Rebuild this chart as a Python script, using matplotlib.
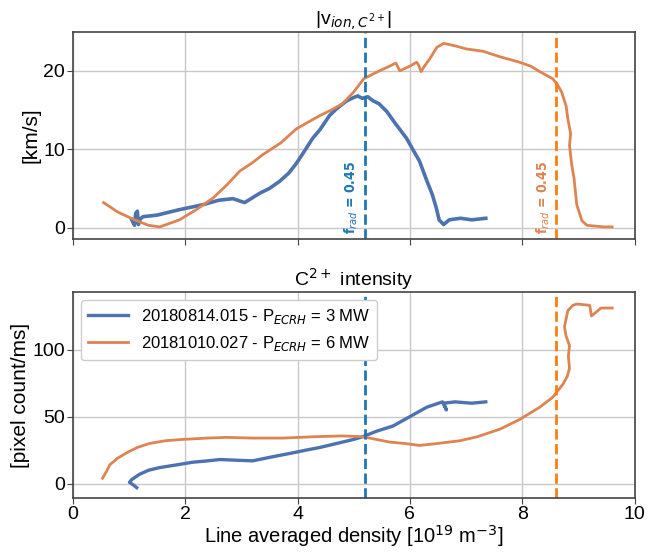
import numpy as np
import matplotlib.pyplot as plt

plt.rcParams['font.family'] = ['Liberation Sans', 'DejaVu Sans']

# upper panel: |v_ion| of C2+ [km/s]
v_blue_x = [1.05, 1.1, 1.12, 1.15, 1.17, 1.2, 1.25, 1.5, 1.9, 2.3, 2.6, 2.85, 3.06, 3.33, 3.5,
            3.68, 3.85, 3.98, 4.1, 4.27, 4.4, 4.57, 4.7, 4.88, 5.0, 5.07, 5.15, 5.25, 5.34, 5.45,
            5.59, 5.75, 5.94, 6.05, 6.17, 6.3, 6.4, 6.47, 6.52, 6.6, 6.7, 6.9, 7.1, 7.35]
v_blue_y = [1.0, 0.3, 1.8, 2.1, 0.4, 1.1, 1.4, 1.6, 2.3, 2.9, 3.5, 3.7, 3.2, 4.4, 5.0,
            5.9, 7.0, 8.2, 9.5, 11.4, 12.5, 14.3, 15.2, 16.2, 16.6, 16.8, 16.5, 16.7, 16.2, 15.8,
            14.8, 13.2, 11.4, 10.0, 8.5, 6.0, 4.2, 2.5, 1.0, 0.4, 1.0, 1.2, 1.0, 1.2]

v_orange_x = [0.55, 0.8, 1.1, 1.35, 1.55, 1.9, 2.2, 2.5, 2.75, 2.97, 3.2, 3.38, 3.7, 3.98, 4.2,
              4.4, 4.6, 4.8, 5.0, 5.18, 5.4, 5.64, 5.75, 5.82, 6.0, 6.12, 6.15, 6.2, 6.25, 6.35,
              6.48, 6.6, 6.8, 7.0, 7.3, 7.6, 7.95, 8.15, 8.31, 8.54, 8.62, 8.7, 8.78, 8.81, 8.86,
              8.84, 8.88, 8.92, 8.97, 9.02, 9.06, 9.15, 9.3, 9.45, 9.6]
v_orange_y = [3.2, 2.0, 1.0, 0.3, 0.1, 1.0, 2.3, 3.8, 5.5, 7.2, 8.3, 9.3, 10.8, 12.6, 13.5,
              14.3, 15.0, 15.8, 17.3, 19.0, 19.8, 20.6, 21.0, 20.0, 20.6, 21.1, 20.8, 19.9, 20.5, 21.5,
              23.0, 23.5, 23.2, 22.8, 22.5, 21.8, 21.1, 20.6, 19.9, 19.0, 18.3, 17.3, 15.5, 13.9, 12.0,
              10.5, 8.0, 6.3, 2.9, 1.8, 0.9, 0.3, 0.2, 0.1, 0.1]

# lower panel: C2+ intensity [pixel count/ms]
i_blue_x = [1.14, 1.08, 1.01, 1.05, 1.19, 1.35, 1.55, 1.85, 2.14, 2.4, 2.62, 2.9, 3.2, 3.55,
            3.92, 4.15, 4.4, 4.6, 4.8, 5.0, 5.16, 5.4, 5.7, 6.0, 6.3, 6.58, 6.65, 6.6, 6.8, 7.1, 7.35]
i_blue_y = [-3, -1, 1, 3, 7, 10, 12, 14, 16, 17, 18, 17.5, 17, 20,
            23, 25, 27, 29, 31, 33, 35, 39, 43, 50, 57, 61, 55, 60, 61, 60, 61]

i_orange_x = [0.53, 0.6, 0.66, 0.8, 0.96, 1.15, 1.37, 1.65, 1.96, 2.4, 2.74, 3.2, 3.74, 4.3,
              4.8, 5.16, 5.4, 5.64, 5.9, 6.17, 6.5, 6.89, 7.2, 7.6, 7.95, 8.31, 8.54, 8.72, 8.8,
              8.84, 8.82, 8.84, 8.78, 8.75, 8.81, 8.9, 8.97, 9.2, 9.23, 9.4, 9.6]
i_orange_y = [4, 9, 14, 19, 23, 27, 30, 32, 33, 34, 34.5, 34, 34, 35,
              35.6, 35, 33, 31, 30, 28.5, 30, 32, 35, 40.6, 47.8, 57, 64.4, 74, 80,
              86, 95, 103, 110, 117, 129, 133, 134, 133, 125, 131, 131]

frad_blue = 5.2
frad_orange = 8.6

c_blue = '#4c72b0'
c_orange = '#dd8452'

fig = plt.figure(figsize=(6.55, 5.55), dpi=100)
ax1 = fig.add_axes([0.111, 0.570, 0.858, 0.373])
ax2 = fig.add_axes([0.111, 0.102, 0.858, 0.372])

for ax in (ax1, ax2):
    ax.grid(True, color='#c8c8c8', lw=1)
    ax.set_axisbelow(True)
    for s in ax.spines.values():
        s.set_color('#444444')
        s.set_linewidth(1.2)
    ax.tick_params(labelsize=14, color='#444444', length=4, pad=1.5)
    ax.set_xlim(0, 10)
    ax.set_xticks([0, 2, 4, 6, 8, 10])

ax1.plot(v_blue_x, v_blue_y, color=c_blue, lw=2.6)
ax1.plot(v_orange_x, v_orange_y, color=c_orange, lw=2)
ax1.axvline(frad_blue, color='#1f77b4', ls='--', lw=2)
ax1.axvline(frad_orange, color='#ff7f0e', ls='--', lw=2)
ax1.text(frad_blue - 0.08, -0.8, r'f$_{rad}$ = 0.45', rotation=90, color='#1f77b4',
         ha='right', va='bottom', fontsize=10, fontweight='bold',
         family='DejaVu Sans', fontstretch='condensed')
ax1.text(frad_orange - 0.08, -0.8, r'f$_{rad}$ = 0.45', rotation=90, color=c_orange,
         ha='right', va='bottom', fontsize=10, fontweight='bold',
         family='DejaVu Sans', fontstretch='condensed')
ax1.set_ylim(-1.4, 25)
ax1.set_yticks([0, 10, 20])
ax1.set_xticklabels([])
ax1.set_ylabel('[km/s]', fontsize=15, labelpad=2)
ax1.set_title(r'|v$_{ion,C^{2+}}$|', fontsize=14, pad=3)

ax2.plot(i_blue_x, i_blue_y, color=c_blue, lw=2.4, label=r'20180814.015 - P$_{ECRH}$ = 3 MW')
ax2.plot(i_orange_x, i_orange_y, color=c_orange, lw=2, label=r'20181010.027 - P$_{ECRH}$ = 6 MW')
ax2.axvline(frad_blue, color='#1f77b4', ls='--', lw=2)
ax2.axvline(frad_orange, color='#ff7f0e', ls='--', lw=2)
ax2.set_ylim(-11, 143)
ax2.set_yticks([0, 50, 100])
ax2.set_ylabel('[pixel count/ms]', fontsize=15, labelpad=2)
ax2.set_xlabel(r'Line averaged density [10$^{19}$ m$^{-3}$]', fontsize=14.5, labelpad=0)
ax2.set_title(r'C$^{2+}$ intensity', fontsize=14, pad=3)
ax2.legend(loc='upper left', fontsize=12, framealpha=1, edgecolor='#cccccc',
           handlelength=2.4)

fig.savefig('out.png', dpi=100)
